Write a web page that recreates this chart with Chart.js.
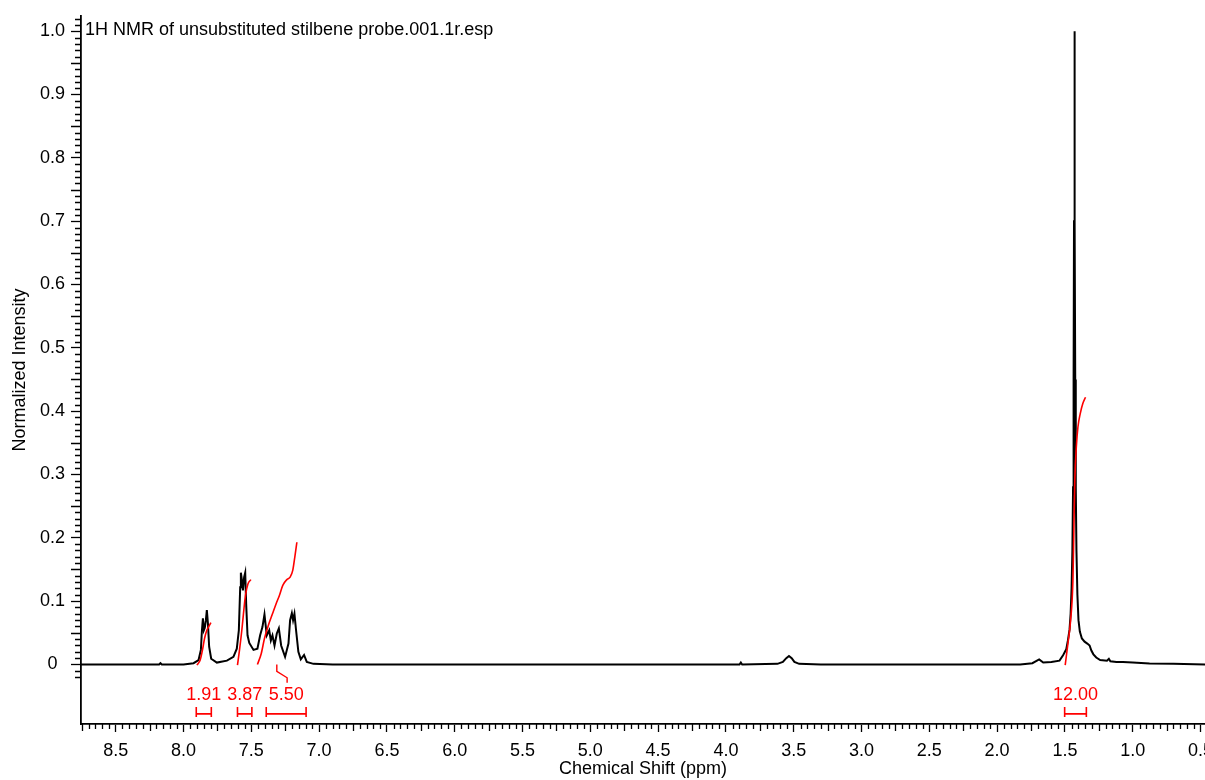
<!DOCTYPE html>
<html>
<head>
<meta charset="utf-8">
<title>1H NMR spectrum</title>
<script src="https://cdn.jsdelivr.net/npm/chart.js@4.4.0/dist/chart.umd.min.js"></script>
<style>
  body { margin: 0; background: #fff; }
  #spectrum { display: block; }
</style>
</head>
<body>
<canvas id="spectrum" width="1205" height="780"></canvas>
<script>
const spectrumTitle = "1H NMR of unsubstituted stilbene probe.001.1r.esp";

// chemical shift (ppm) and normalized intensity of the trace
const shiftPpm = [
  8.756, 8.40, 8.18, 8.17, 8.16, 8.00, 7.926, 7.889, 7.872, 7.864, 7.857, 7.850, 7.843, 7.835,
  7.828, 7.820, 7.811, 7.796, 7.754, 7.680, 7.632, 7.607, 7.592, 7.582, 7.577, 7.569, 7.562,
  7.553, 7.545, 7.538, 7.528, 7.515, 7.484, 7.455, 7.435, 7.418, 7.403, 7.386, 7.368, 7.356,
  7.344, 7.329, 7.312, 7.297, 7.280, 7.251, 7.226, 7.214, 7.201, 7.192, 7.182, 7.170, 7.153,
  7.135, 7.111, 7.091, 7.042, 6.90, 5.00, 3.95, 3.90, 3.89, 3.88, 3.62, 3.58, 3.555, 3.535,
  3.515, 3.495, 3.46, 3.30, 2.00, 1.83, 1.74, 1.69, 1.66, 1.60, 1.54, 1.515, 1.500, 1.490,
  1.478, 1.466, 1.458, 1.451, 1.445, 1.440, 1.436, 1.433, 1.430, 1.427, 1.424, 1.420, 1.415,
  1.408, 1.400, 1.390, 1.375, 1.355, 1.335, 1.318, 1.305, 1.290, 1.269, 1.240, 1.190, 1.176,
  1.165, 1.120, 1.072, 1.000, 0.876, 0.70, 0.467
];
const intensity = [
  0.000, 0.000, 0.000, 0.002, 0.000, 0.000, 0.002, 0.007, 0.023, 0.054, 0.073, 0.054, 0.058, 0.070,
  0.086, 0.065, 0.028, 0.009, 0.003, 0.006, 0.012, 0.025, 0.054, 0.122, 0.145, 0.133, 0.117,
  0.138, 0.145, 0.096, 0.046, 0.034, 0.023, 0.025, 0.046, 0.059, 0.079, 0.046, 0.054, 0.038,
  0.046, 0.030, 0.049, 0.057, 0.030, 0.012, 0.033, 0.070, 0.081, 0.070, 0.080, 0.054, 0.020,
  0.008, 0.015, 0.004, 0.001, 0.000, 0.000, 0.000, 0.000, 0.003, 0.000, 0.001, 0.004, 0.010, 0.0135,
  0.010, 0.004, 0.001, 0.000, 0.000, 0.000, 0.002, 0.008, 0.003, 0.004, 0.006, 0.014, 0.020, 0.024,
  0.038, 0.055, 0.080, 0.120, 0.180, 0.280, 0.450, 0.700, 1.000, 0.700, 0.450, 0.280, 0.180,
  0.110, 0.070, 0.052, 0.041, 0.036, 0.033, 0.030, 0.022, 0.016, 0.011, 0.007, 0.006, 0.009,
  0.005, 0.004, 0.004, 0.003, 0.0015, 0.001, 0.000
];

// integral traces, one array per integrated region
const integralPpm = [
  [7.901, 7.877, 7.860, 7.845, 7.828, 7.813, 7.798],
  [7.602, 7.587, 7.570, 7.558, 7.543, 7.525, 7.503],
  [7.455, 7.427, 7.403, 7.374, 7.344, 7.317, 7.293, 7.268, 7.238, 7.214, 7.194, 7.179, 7.164],
  [1.498, 1.478, 1.458, 1.441, 1.434, 1.427, 1.416, 1.404, 1.387, 1.368, 1.348]
];
const integralValues = [
  [-0.001, 0.007, 0.023, 0.041, 0.054, 0.060, 0.066],
  [-0.001, 0.023, 0.054, 0.080, 0.109, 0.127, 0.134],
  [0.000, 0.017, 0.041, 0.062, 0.080, 0.096, 0.109, 0.125, 0.134, 0.138, 0.149, 0.170, 0.193],
  [-0.001, 0.033, 0.070, 0.133, 0.212, 0.291, 0.343, 0.375, 0.396, 0.412, 0.422]
];
const integralRanges = [[7.906, 7.795], [7.602, 7.496], [7.390, 7.096], [1.502, 1.342]];
const integralLabels = ["1.91", "3.87", "5.50", "12.00"];

// little hook joining the 5.50 label to its region
const leaderPpm = [7.312, 7.312, 7.236, 7.236];
const leaderValues = [0.0, -0.011, -0.021, -0.029];

const xTicks = [8.5, 8.0, 7.5, 7.0, 6.5, 6.0, 5.5, 5.0, 4.5, 4.0, 3.5, 3.0, 2.5, 2.0, 1.5, 1.0, 0.5];
const yTicks = [0, 0.1, 0.2, 0.3, 0.4, 0.5, 0.6, 0.7, 0.8, 0.9, 1.0];

const FONT = "'Liberation Sans', Arial, sans-serif";
Chart.defaults.font.family = FONT;
Chart.defaults.font.size = 18;
Chart.defaults.color = "#000";

const toPoints = (xs, ys) => xs.map((v, i) => ({ x: v, y: ys[i] }));

const datasets = [
  {
    data: toPoints(shiftPpm, intensity),
    borderColor: "#000",
    borderWidth: 2,
    pointRadius: 0,
    tension: 0,
    order: 2,
  },
  ...integralPpm.map((ppm, i) => ({
    data: toPoints(ppm, integralValues[i]),
    borderColor: "#ff0000",
    borderWidth: 1.6,
    pointRadius: 0,
    cubicInterpolationMode: "monotone",
    order: 1,
  })),
  {
    data: toPoints(leaderPpm, leaderValues),
    borderColor: "#ff0000",
    borderWidth: 1.4,
    pointRadius: 0,
    order: 1,
  },
];

// minor ticks, integral brackets and the file name
const decorations = {
  id: "decorations",
  afterDraw(chart) {
    const { ctx, chartArea, scales: { x, y } } = chart;
    ctx.save();
    ctx.strokeStyle = "#000";
    ctx.lineWidth = 1.3;
    ctx.beginPath();
    for (let i = Math.ceil(x.min / 0.05); i * 0.05 <= x.max + 1e-9; i++) {
      if (i % 10 === 0) continue;
      const px = Math.round(x.getPixelForValue(i * 0.05)) + 0.5;
      const len = i % 5 === 0 ? 7 : 5;
      ctx.moveTo(px, chartArea.bottom);
      ctx.lineTo(px, chartArea.bottom + len);
    }
    for (let i = -2; i <= 102; i++) {
      if (i % 10 === 0) continue;
      const py = Math.round(y.getPixelForValue(i / 100)) + 0.5;
      const len = i % 5 === 0 ? 10 : 6;
      ctx.moveTo(chartArea.left, py);
      ctx.lineTo(chartArea.left - len, py);
    }
    ctx.stroke();

    ctx.strokeStyle = "#ff0000";
    ctx.fillStyle = "#ff0000";
    ctx.lineWidth = 1.6;
    ctx.font = "18px " + FONT;
    ctx.textAlign = "center";
    ctx.textBaseline = "middle";
    const top = y.getPixelForValue(-0.067);
    const mid = y.getPixelForValue(-0.078);
    const bot = y.getPixelForValue(-0.083);
    integralRanges.forEach(([a, b], i) => {
      const xa = x.getPixelForValue(a);
      const xb = x.getPixelForValue(b);
      ctx.beginPath();
      ctx.moveTo(xa, top); ctx.lineTo(xa, bot);
      ctx.moveTo(xb, top); ctx.lineTo(xb, bot);
      ctx.moveTo(xa, mid); ctx.lineTo(xb, mid);
      ctx.stroke();
      ctx.fillText(integralLabels[i], (xa + xb) / 2, y.getPixelForValue(-0.049));
    });

    ctx.fillStyle = "#000";
    ctx.textAlign = "left";
    ctx.fillText(spectrumTitle, chartArea.left + 4, y.getPixelForValue(1.002));
    ctx.restore();
  },
};

new Chart(document.getElementById("spectrum"), {
  type: "line",
  data: { datasets },
  options: {
    responsive: false,
    animation: false,
    events: [],
    layout: { padding: { top: 16, right: 0, left: 0, bottom: 0 } },
    plugins: { legend: { display: false }, tooltip: { enabled: false } },
    scales: {
      x: {
        type: "linear",
        reverse: true,
        min: 0.467,
        max: 8.756,
        afterBuildTicks: (scale) => { scale.ticks = xTicks.map((v) => ({ value: v })); },
        afterFit: (scale) => {
          scale.height = 56;
          scale.paddingLeft = 0;
          scale.paddingRight = 0;
        },
        ticks: {
          autoSkip: false,
          maxRotation: 0,
          padding: 8,
          callback: (v) => Number(v).toFixed(1),
        },
        grid: { drawOnChartArea: false, tickLength: 8, tickWidth: 1.3, tickColor: "#000" },
        border: { color: "#000", width: 1.8 },
        title: { display: true, text: "Chemical Shift (ppm)", padding: { top: 0, bottom: 0 } },
      },
      y: {
        type: "linear",
        min: -0.094,
        max: 1.024,
        afterBuildTicks: (scale) => { scale.ticks = yTicks.map((v) => ({ value: v })); },
        afterFit: (scale) => {
          scale.width = 81;
          scale.paddingTop = 0;
          scale.paddingBottom = 0;
        },
        ticks: {
          autoSkip: false,
          padding: 6,
          crossAlign: "center",
          callback: (v) => (v === 0 ? "0" : Number(v).toFixed(1)),
        },
        grid: { drawOnChartArea: false, tickLength: 10, tickWidth: 1.3, tickColor: "#000" },
        border: { color: "#000", width: 1.8 },
        title: { display: true, text: "Normalized Intensity", padding: { top: 9, bottom: 0 } },
      },
    },
  },
  plugins: [decorations],
});
</script>
</body>
</html>
